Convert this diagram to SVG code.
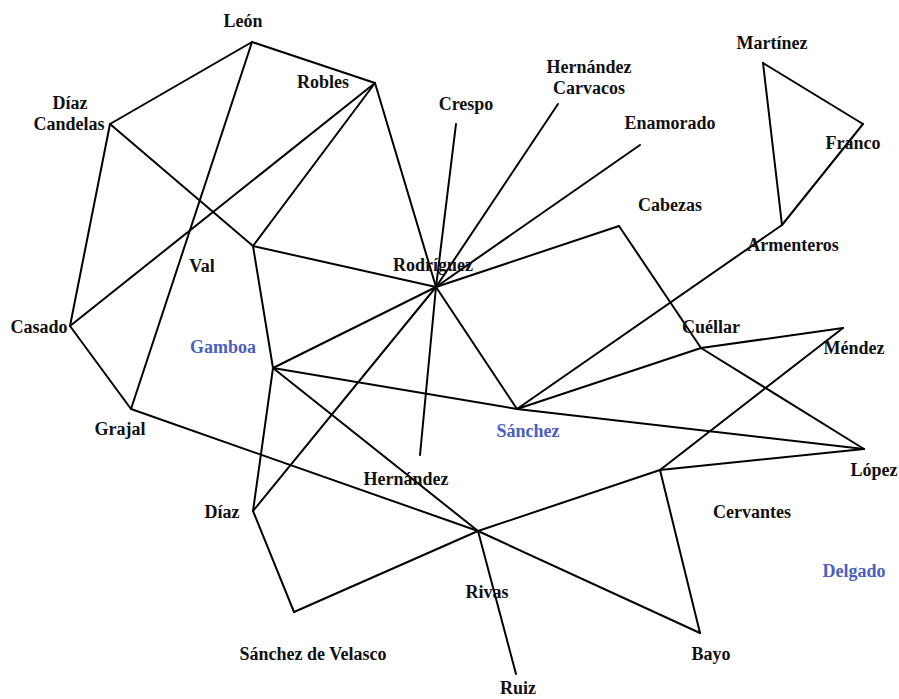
<svg xmlns="http://www.w3.org/2000/svg" width="899" height="699" viewBox="0 0 899 699">
<style>
.e{stroke:#000;stroke-width:2;fill:none;stroke-linecap:round}
text{font-family:"Liberation Serif","Times New Roman",serif;font-weight:bold;font-size:18px;fill:#111;text-anchor:middle}
.b{fill:#4a5fc0}
</style>
<rect width="899" height="699" fill="#fff"/>
<g id="connectors">
<line class="e" x1="252" y1="42" x2="110" y2="124"/>
<line class="e" x1="252" y1="42" x2="375" y2="83"/>
<line class="e" x1="252" y1="42" x2="131" y2="409"/>
<line class="e" x1="110" y1="124" x2="70" y2="326"/>
<line class="e" x1="110" y1="124" x2="253" y2="246"/>
<line class="e" x1="375" y1="83" x2="70" y2="326"/>
<line class="e" x1="375" y1="83" x2="253" y2="246"/>
<line class="e" x1="375" y1="83" x2="436" y2="287"/>
<line class="e" x1="253" y1="246" x2="436" y2="287"/>
<line class="e" x1="253" y1="246" x2="273" y2="368"/>
<line class="e" x1="70" y1="326" x2="131" y2="409"/>
<line class="e" x1="131" y1="409" x2="478" y2="531"/>
<line class="e" x1="273" y1="368" x2="436" y2="287"/>
<line class="e" x1="273" y1="368" x2="517" y2="409"/>
<line class="e" x1="273" y1="368" x2="478" y2="531"/>
<line class="e" x1="273" y1="368" x2="253" y2="511"/>
<line class="e" x1="253" y1="511" x2="436" y2="287"/>
<line class="e" x1="253" y1="511" x2="294" y2="612"/>
<line class="e" x1="294" y1="612" x2="478" y2="531"/>
<line class="e" x1="478" y1="531" x2="516" y2="674"/>
<line class="e" x1="478" y1="531" x2="700" y2="633"/>
<line class="e" x1="478" y1="531" x2="660" y2="470"/>
<line class="e" x1="660" y1="470" x2="700" y2="633"/>
<line class="e" x1="660" y1="470" x2="864" y2="449"/>
<line class="e" x1="660" y1="470" x2="843" y2="328"/>
<line class="e" x1="843" y1="328" x2="701" y2="348"/>
<line class="e" x1="701" y1="348" x2="864" y2="449"/>
<line class="e" x1="701" y1="348" x2="517" y2="409"/>
<line class="e" x1="619" y1="226" x2="701" y2="348"/>
<line class="e" x1="619" y1="226" x2="436" y2="287"/>
<line class="e" x1="517" y1="409" x2="864" y2="449"/>
<line class="e" x1="517" y1="409" x2="436" y2="287"/>
<line class="e" x1="517" y1="409" x2="782" y2="225"/>
<line class="e" x1="782" y1="225" x2="763" y2="63"/>
<line class="e" x1="782" y1="225" x2="863" y2="124"/>
<line class="e" x1="763" y1="63" x2="863" y2="124"/>
<line class="e" x1="436" y1="287" x2="640" y2="145"/>
<line class="e" x1="436" y1="287" x2="558" y2="104"/>
<line class="e" x1="436" y1="287" x2="456" y2="124"/>
<line class="e" x1="436" y1="287" x2="420" y2="455"/>
</g>
<g id="leon"><text x="243" y="27">León</text></g>
<g id="robles"><text x="323" y="88">Robles</text></g>
<g id="diaz-candelas"><text x="70" y="109">Díaz</text><text x="69" y="130">Candelas</text></g>
<g id="crespo"><text x="466" y="110">Crespo</text></g>
<g id="hernandez-carvacos"><text x="589" y="73">Hernández</text><text x="589" y="94">Carvacos</text></g>
<g id="enamorado"><text x="670" y="129">Enamorado</text></g>
<g id="martinez"><text x="772" y="49">Martínez</text></g>
<g id="franco"><text x="853" y="149">Franco</text></g>
<g id="cabezas"><text x="670" y="211">Cabezas</text></g>
<g id="armenteros"><text x="793" y="251">Armenteros</text></g>
<g id="val"><text x="202" y="272">Val</text></g>
<g id="rodriguez"><text x="433" y="271">Rodríguez</text></g>
<g id="casado"><text x="39" y="333">Casado</text></g>
<g id="gamboa"><text class="b" x="223" y="353">Gamboa</text></g>
<g id="cuellar"><text x="711" y="333">Cuéllar</text></g>
<g id="mendez"><text x="854" y="354">Méndez</text></g>
<g id="grajal"><text x="120" y="435">Grajal</text></g>
<g id="sanchez"><text class="b" x="528" y="437">Sánchez</text></g>
<g id="lopez"><text x="874" y="476">López</text></g>
<g id="hernandez"><text x="406" y="485">Hernández</text></g>
<g id="diaz"><text x="222" y="518">Díaz</text></g>
<g id="cervantes"><text x="752" y="518">Cervantes</text></g>
<g id="delgado"><text class="b" x="854" y="577">Delgado</text></g>
<g id="rivas"><text x="487" y="598">Rivas</text></g>
<g id="sanchez-de-velasco"><text x="313" y="660">Sánchez de Velasco</text></g>
<g id="bayo"><text x="711" y="660">Bayo</text></g>
<g id="ruiz"><text x="518" y="694">Ruiz</text></g>
</svg>
